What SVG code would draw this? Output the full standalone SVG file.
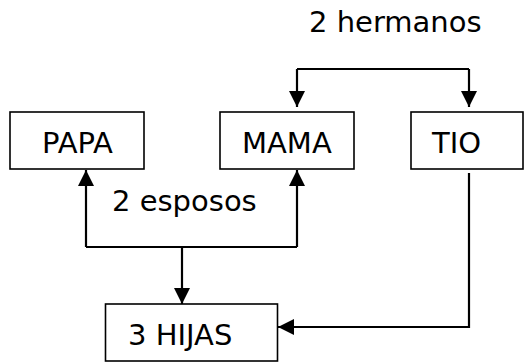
<svg xmlns="http://www.w3.org/2000/svg" width="526" height="363" viewBox="0 0 526 363">
  <defs>
    <marker id="arrow" markerUnits="userSpaceOnUse" markerWidth="16" markerHeight="16" viewBox="0 0 16 16" refX="16" refY="8" orient="auto">
      <path d="M0,0 L16,8 L0,16 Z" fill="#000"/>
    </marker>
    <style>
      .box { fill: #fff; stroke: #000; stroke-width: 1.6; }
      .lbl { font-family: "DejaVu Sans", Verdana, sans-serif; font-size: 29px; fill: #000; }
      .conn { fill: none; stroke: #000; stroke-width: 2.2; }
    </style>
  </defs>
  <rect width="526" height="363" fill="#fff"/>

  <g id="papa">
    <rect class="box" x="10" y="112" width="134" height="57"/>
    <text class="lbl" x="42" y="153">PAPA</text>
  </g>
  <g id="mama">
    <rect class="box" x="220" y="112" width="134" height="57"/>
    <text class="lbl" x="242" y="153">MAMA</text>
  </g>
  <g id="tio">
    <rect class="box" x="411" y="112" width="112" height="57"/>
    <text class="lbl" x="432" y="153">TIO</text>
  </g>
  <g id="hijas">
    <rect class="box" x="105.5" y="304" width="172" height="57"/>
    <text class="lbl" x="128" y="345">3 HIJAS</text>
  </g>

  <g id="connectors">
    <!-- siblings: MAMA and TIO -->
    <path class="conn" d="M297,69 H469" />
    <path class="conn" d="M297,69 V107" marker-end="url(#arrow)"/>
    <path class="conn" d="M469,69 V107" marker-end="url(#arrow)"/>
    <text class="lbl" x="309" y="32">2 hermanos</text>

    <!-- spouses: PAPA and MAMA -->
    <path class="conn" d="M86,247 H297" />
    <path class="conn" d="M86,247 V170" marker-end="url(#arrow)"/>
    <path class="conn" d="M297,247 V170" marker-end="url(#arrow)"/>
    <text class="lbl" x="112" y="211">2 esposos</text>

    <!-- children -->
    <path class="conn" d="M182,247 V304" marker-end="url(#arrow)"/>
    <path class="conn" d="M469,173 V327 H278" marker-end="url(#arrow)"/>
  </g>
</svg>
